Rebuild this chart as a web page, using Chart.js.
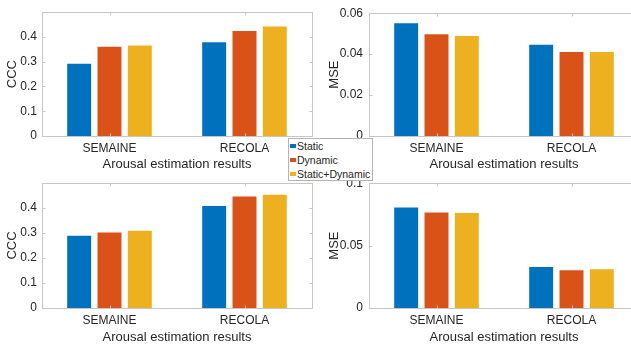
<!DOCTYPE html>
<html><head><meta charset="utf-8">
<script src="https://cdn.jsdelivr.net/npm/chart.js@4/dist/chart.umd.min.js"></script>
<style>
html,body{margin:0;padding:0;background:#fff;overflow:hidden;width:631px;height:347px;position:relative;}
canvas{position:absolute;}
#legend{position:absolute;left:288px;top:138px;width:85px;height:43px;border:1px solid #b4b4b4;background:#fff;box-sizing:border-box;font-family:"Liberation Sans",Arial,sans-serif;font-size:10.5px;color:#262626;z-index:5;}
.item{display:flex;align-items:center;height:14px;white-space:nowrap;}
.sw{width:6px;height:4px;margin:0 1px 0 1px;}
</style>
</head><body>
<canvas id="c1" width="320" height="175" style="left:0;top:0;width:320px;height:175px"></canvas>
<canvas id="c2" width="329" height="175" style="left:310px;top:0;width:329px;height:175px"></canvas>
<canvas id="c3" width="320" height="177" style="left:0;top:170px;width:320px;height:177px"></canvas>
<canvas id="c4" width="329" height="177" style="left:310px;top:170px;width:329px;height:177px"></canvas>
<div id="legend"></div>
<script>
// ---- data ----
const categories = ['SEMAINE', 'RECOLA'];
const seriesNames = ['Static', 'Dynamic', 'Static+Dynamic'];
const seriesColors = ['#0072BD', '#D95319', '#EDB120'];
const xTitle = 'Arousal estimation results';

// top-left: CCC
const ccc1Static  = [0.292, 0.379];
const ccc1Dynamic = [0.360, 0.424];
const ccc1Both    = [0.366, 0.442];
// top-right: MSE
const mse1Static  = [0.0551, 0.0446];
const mse1Dynamic = [0.0497, 0.0410];
const mse1Both    = [0.0489, 0.0410];
// bottom-left: CCC
const ccc2Static  = [0.289, 0.408];
const ccc2Dynamic = [0.302, 0.446];
const ccc2Both    = [0.309, 0.453];
// bottom-right: MSE
const mse2Static  = [0.0805, 0.0329];
const mse2Dynamic = [0.0766, 0.0303];
const mse2Both    = [0.0761, 0.0311];

const cccTicks  = [0, 0.1, 0.2, 0.3, 0.4];
const mse1Ticks = [0, 0.02, 0.04, 0.06];
const mse2Ticks = [0, 0.05, 0.1];

// ---- rendering ----
const FONT = '"Liberation Sans", Arial, Helvetica, sans-serif';
const TXT = '#262626';

const boxPlugin = {
  id: 'matlabBox',
  afterDraw(chart) {
    const {ctx, chartArea: a, scales: {x, y}} = chart;
    ctx.save();
    ctx.strokeStyle = '#c6c6c6';
    ctx.lineWidth = 1;
    const L = Math.round(a.left) + 0.5, R = Math.round(a.right) + 0.5;
    const T = Math.round(a.top) + 0.5, B = Math.round(a.bottom) + 0.5;
    ctx.strokeRect(L, T, R - L, B - T);
    ctx.beginPath();
    y.ticks.forEach(t => {
      const py = Math.round(y.getPixelForValue(t.value)) + 0.5;
      ctx.moveTo(L, py); ctx.lineTo(L + 3, py);
      ctx.moveTo(R, py); ctx.lineTo(R - 3, py);
    });
    x.ticks.forEach((t, i) => {
      const px = Math.round(x.getPixelForTick(i)) + 0.5;
      ctx.moveTo(px, B); ctx.lineTo(px, B - 3);
      ctx.moveTo(px, T); ctx.lineTo(px, T + 3);
    });
    ctx.stroke();
    ctx.restore();
  }
};

function fmt(v) { return String(Number(v.toFixed(4))); }

function makeChart(id, series, yTitle, yMax, tickList, opt) {
  const datasets = series.map((d, i) => ({
    label: seriesNames[i],
    data: d,
    backgroundColor: seriesColors[i],
    borderWidth: 0,
    categoryPercentage: 0.674,
    barPercentage: 0.79
  }));
  new Chart(document.getElementById(id), {
    type: 'bar',
    data: { labels: categories, datasets },
    plugins: [boxPlugin],
    options: {
      responsive: false,
      animation: false,
      devicePixelRatio: 1,
      layout: { padding: { top: opt.padTop, right: opt.padRight, left: 0, bottom: 0 } },
      plugins: { legend: { display: false }, tooltip: { enabled: false } },
      scales: {
        x: {
          offset: true,
          grid: { display: false, drawTicks: false },
          border: { display: false },
          ticks: { color: TXT, font: { family: FONT, size: 12 }, padding: 5, maxRotation: 0 },
          title: { display: true, text: xTitle, color: TXT, font: { family: FONT, size: 13 }, padding: { top: 0, bottom: opt.titleBottom } },
          afterFit(s) { s.height = 39; }
        },
        y: {
          min: 0, max: yMax,
          grid: { display: false, drawTicks: false },
          border: { display: false },
          afterBuildTicks(s) { s.ticks = tickList.map(v => ({ value: v })); },
          ticks: { color: TXT, font: { family: FONT, size: 12 }, padding: opt.tickPad, callback: v => fmt(v) },
          title: { display: true, text: yTitle, color: TXT, font: { family: FONT, size: 13 }, padding: { top: opt.yTitlePad, bottom: 0 } },
          afterFit(s) { s.width = opt.yWidth; }
        }
      }
    }
  });
}

makeChart('c1', [ccc1Static, ccc1Dynamic, ccc1Both], 'CCC', 0.5, cccTicks,
  { padTop: 9, padRight: 8, titleBottom: 3, yWidth: 42, yTitlePad: 5, tickPad: 5 });
makeChart('c2', [mse1Static, mse1Dynamic, mse1Both], 'MSE', 0.06, mse1Ticks,
  { padTop: 9, padRight: 0, titleBottom: 3, yWidth: 59, yTitlePad: 17, tickPad: 6 });
makeChart('c3', [ccc2Static, ccc2Dynamic, ccc2Both], 'CCC', 0.5, cccTicks,
  { padTop: 13, padRight: 8, titleBottom: 2, yWidth: 42, yTitlePad: 5, tickPad: 5 });
makeChart('c4', [mse2Static, mse2Dynamic, mse2Both], 'MSE', 0.1, mse2Ticks,
  { padTop: 13, padRight: 0, titleBottom: 2, yWidth: 59, yTitlePad: 17, tickPad: 6 });

// legend (real text)
const lg = document.getElementById('legend');
seriesNames.forEach((n, i) => {
  const it = document.createElement('div');
  it.className = 'item';
  const sw = document.createElement('span');
  sw.className = 'sw';
  sw.style.background = seriesColors[i];
  const tx = document.createElement('span');
  tx.textContent = n;
  it.appendChild(sw); it.appendChild(tx);
  lg.appendChild(it);
});
</script>
</body></html>
